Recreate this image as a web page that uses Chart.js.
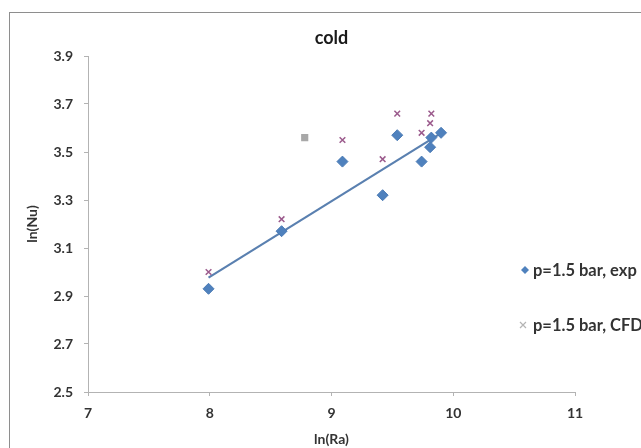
<!DOCTYPE html>
<html>
<head>
<meta charset="utf-8">
<title>cold</title>
<script src="https://cdn.jsdelivr.net/npm/chart.js@4.4.3/dist/chart.umd.min.js"></script>
<style>
  *{box-sizing:border-box;margin:0;padding:0}
  body{background:#fff;width:641px;height:448px;overflow:hidden;position:relative}
  .frame{position:absolute;left:9px;top:12px;width:700px;height:500px;border:1px solid #8e8e8e;pointer-events:none}
  canvas{position:absolute;left:0;top:0}
</style>
</head>
<body>
<canvas id="c" width="641" height="448"></canvas>
<div class="frame"></div>
<script>
// measured series, ln(Ra) vs ln(Nu)
const expRa = [7.99, 8.59, 9.09, 9.42, 9.54, 9.74, 9.82, 9.81, 9.90]
const expNu = [2.93, 3.17, 3.46, 3.32, 3.57, 3.46, 3.56, 3.52, 3.58]
const cfdRa = [7.99, 8.59, 8.78, 9.09, 9.42, 9.54, 9.74, 9.82, 9.81]
const cfdNu = [3.00, 3.22, 3.56, 3.55, 3.47, 3.66, 3.58, 3.66, 3.62]

const xTicks = [7, 8, 9, 10, 11]
const yTicks = [2.5, 2.7, 2.9, 3.1, 3.3, 3.5, 3.7, 3.9]

const seriesNames = ['p=1.5 bar, exp', 'p=1.5 bar, CFD']
const TXT = '#333'
const FONT = 'Lato, "Open Sans", sans-serif'

const pts = (xs, ys) => xs.map((x, i) => ({ x, y: ys[i] }))

// linear trendline of the exp series over its x range
function trend(xs, ys) {
  const n = xs.length
  const mx = xs.reduce((a, b) => a + b, 0) / n
  const my = ys.reduce((a, b) => a + b, 0) / n
  let sxy = 0, sxx = 0
  xs.forEach((x, i) => { sxy += (x - mx) * (ys[i] - my); sxx += (x - mx) * (x - mx) })
  const k = sxy / sxx
  const lo = Math.min(...xs), hi = Math.max(...xs)
  return [{ x: lo, y: my + k * (lo - mx) }, { x: hi, y: my + k * (hi - mx) }]
}

const cfdColors = cfdRa.map((_, i) => i === 2 ? '#a8a8a8' : '#9b5a8c')
const cfdStyles = cfdRa.map((_, i) => i === 2 ? 'rect' : 'crossRot')

const titlePlugin = {
  id: 'topTitle',
  afterDraw(chart) {
    const { ctx, chartArea } = chart
    ctx.save()
    ctx.font = 'bold 18px ' + FONT
    ctx.fillStyle = '#1a1a1a'
    ctx.textAlign = 'center'
    ctx.textBaseline = 'middle'
    ctx.fillText('cold', (chartArea.left + chartArea.right) / 2, 38)
    ctx.restore()
  }
}

// legend sits inside the plot, on the right
const legendPlugin = {
  id: 'sideLegend',
  afterDraw(chart) {
    const { ctx, chartArea } = chart
    const x0 = chartArea.right - 50
    ctx.save()
    ctx.font = 'bold 16.5px ' + FONT
    ctx.textBaseline = 'middle'

    // diamond
    let y = 270
    ctx.fillStyle = '#4f81bd'
    ctx.beginPath()
    ctx.moveTo(x0, y - 4); ctx.lineTo(x0 + 4, y); ctx.lineTo(x0, y + 4); ctx.lineTo(x0 - 4, y)
    ctx.closePath(); ctx.fill()
    ctx.fillStyle = TXT
    ctx.fillText(seriesNames[0], x0 + 8, y + 1)

    // cross
    y = 325
    ctx.strokeStyle = '#b4b4b4'
    ctx.lineWidth = 1.2
    ctx.beginPath()
    ctx.moveTo(x0 - 5, y - 3); ctx.lineTo(x0 + 1, y + 3)
    ctx.moveTo(x0 - 5, y + 3); ctx.lineTo(x0 + 1, y - 3)
    ctx.stroke()
    ctx.fillText(seriesNames[1], x0 + 8, y + 1)
    ctx.restore()
  }
}

new Chart(document.getElementById('c'), {
  type: 'scatter',
  data: {
    datasets: [
      {
        label: seriesNames[0],
        data: pts(expRa, expNu),
        pointStyle: 'rectRot',
        pointRadius: 5.5,
        backgroundColor: '#4f81bd',
        borderColor: '#4a7ab4',
        borderWidth: 1,
        order: 0
      },
      {
        label: seriesNames[1],
        data: pts(cfdRa, cfdNu),
        pointStyle: cfdStyles,
        pointRadius: 4,
        backgroundColor: cfdColors,
        borderColor: cfdColors,
        borderWidth: 1.5,
        order: 1
      },
      {
        label: 'trend',
        data: trend(expRa, expNu),
        showLine: true,
        pointRadius: 0,
        borderColor: '#5a80b0',
        borderWidth: 2.2,
        order: 2
      }
    ]
  },
  options: {
    responsive: false,
    animation: false,
    devicePixelRatio: 1,
    layout: { padding: { top: 56, left: 10, right: 66, bottom: 0 } },
    plugins: { legend: { display: false }, tooltip: { enabled: false } },
    scales: {
      x: {
        type: 'linear',
        min: 7, max: 11,
        afterBuildTicks: s => { s.ticks = xTicks.map(v => ({ value: v })) },
        afterFit: s => { s.height = 56 },
        border: { color: '#b3b3b3', width: 1 },
        grid: { drawOnChartArea: false, tickLength: 4, color: '#b3b3b3' },
        ticks: { color: TXT, padding: 9, font: { family: FONT, size: 14, weight: 'bold' } },
        title: {
          display: true, text: 'ln(Ra)', color: TXT,
          padding: { top: 0, bottom: 0 },
          font: { family: FONT, size: 14, weight: 'bold' }
        }
      },
      y: {
        type: 'linear',
        min: 2.5, max: 3.9,
        afterBuildTicks: s => { s.ticks = yTicks.map(v => ({ value: v })) },
        afterFit: s => { s.width = 78 },
        border: { color: '#b3b3b3', width: 1 },
        grid: { drawOnChartArea: false, tickLength: 4, color: '#b3b3b3' },
        ticks: {
          color: TXT, padding: 11,
          font: { family: FONT, size: 14, weight: 'bold' },
          callback: v => v.toFixed(1)
        },
        title: {
          display: true, text: 'ln(Nu)', color: TXT,
          padding: { top: 14, bottom: 0 },
          font: { family: FONT, size: 14, weight: 'bold' }
        }
      }
    }
  },
  plugins: [titlePlugin, legendPlugin]
})
</script>
</body>
</html>
